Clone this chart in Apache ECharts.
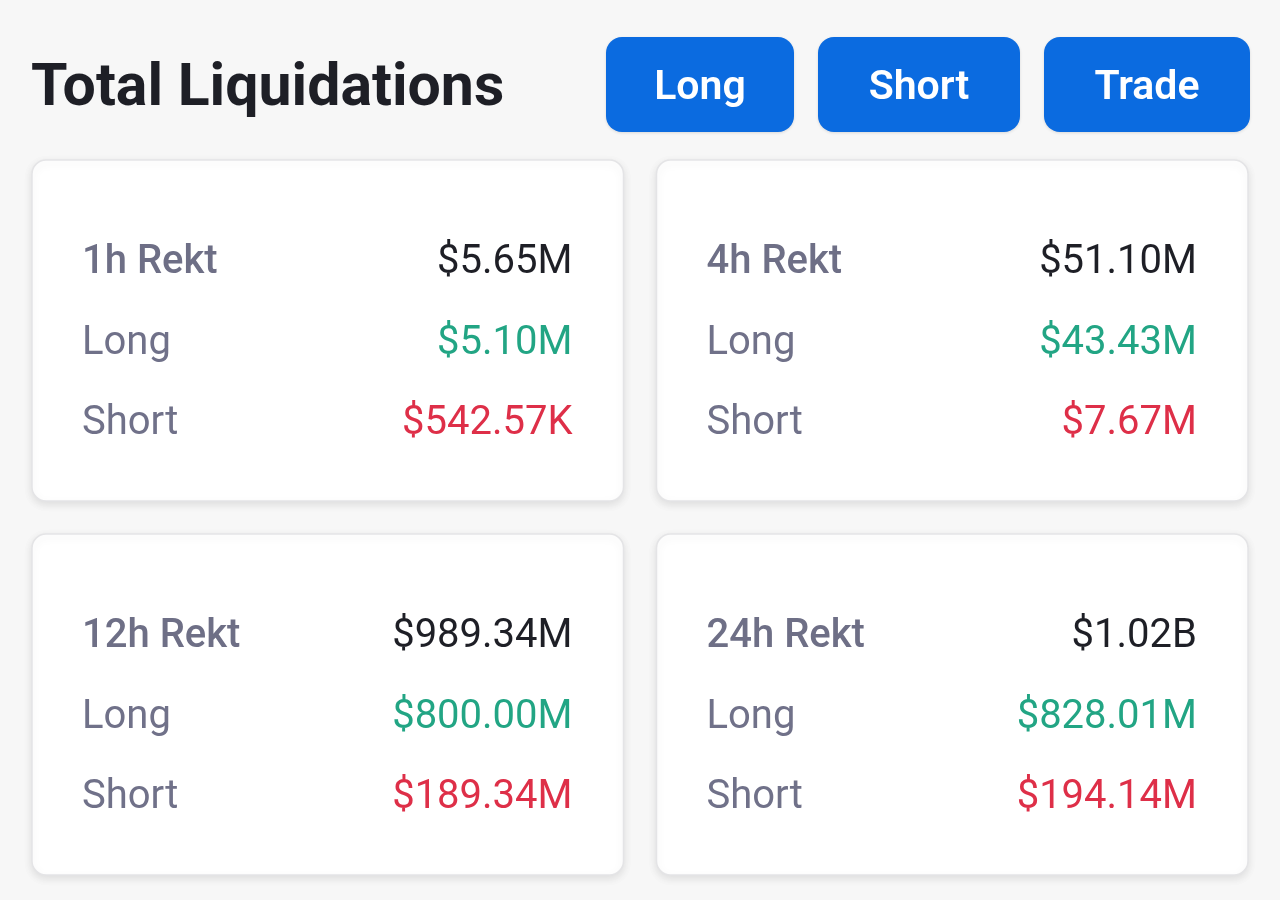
<!DOCTYPE html>
<html>
<head>
<meta charset="utf-8">
<script src="https://cdn.jsdelivr.net/npm/echarts@6/dist/echarts.min.js"></script>
<style>
html,body{margin:0;padding:0;background:#f7f7f7;}
#chart{width:1280px;height:900px;}
</style>
</head>
<body>
<div id="chart"></div>
<script>
// ---- data ----
var titleText = 'Total Liquidations';
var buttons = ['Long', 'Short', 'Trade'];
var periods = ['1h Rekt', '4h Rekt', '12h Rekt', '24h Rekt'];
var totals = ['$5.65M', '$51.10M', '$989.34M', '$1.02B'];
var longs = ['$5.10M', '$43.43M', '$800.00M', '$828.01M'];
var shorts = ['$542.57K', '$7.67M', '$189.34M', '$194.14M'];
var rowLabels = ['Long', 'Short'];
var cardCols = [0, 1, 0, 1];
var cardRows = [0, 0, 1, 1];

var FONT = 'Roboto, "Noto Sans", sans-serif';
var GAP = 33;
var GRID_W = 1216, GRID_H = 715;
var CELL_W = (GRID_W + GAP) / 2, CELL_H = (GRID_H + GAP) / 2;

var cardData = periods.map(function (p, i) { return [cardCols[i], cardRows[i], i]; });

function renderCard(params, api) {
  var i = api.value(2);
  var p = api.coord([api.value(0), api.value(1)]);
  var s = api.size([1, 1]);
  var w = s[0] - GAP, h = s[1] - GAP;
  var x = p[0], y = p[1];
  var lx = x + 50, rx = x + w - 51;
  var rows = [y + 103, y + 184, y + 264];
  function txt(t, tx, ty, align, color, weight) {
    return {
      type: 'text', silent: true,
      style: { text: t, x: tx, y: ty, align: align, verticalAlign: 'middle',
        fill: color, fontSize: 40, fontWeight: weight, fontFamily: FONT }
    };
  }
  return {
    type: 'group',
    children: [
      { type: 'rect', shape: { x: x, y: y, width: w, height: h, r: 14 },
        style: { fill: '#ffffff', stroke: '#e4e4e6', lineWidth: 1.5,
          shadowBlur: 8, shadowOffsetY: 3, shadowColor: 'rgba(0,0,0,0.10)' } },
      txt(periods[i], lx, rows[0], 'left', '#6e6f86', 500),
      txt(totals[i], rx, rows[0], 'right', '#1e1f26', 400),
      txt(rowLabels[0], lx, rows[1], 'left', '#707189', 400),
      txt(longs[i], rx, rows[1], 'right', '#22a584', 400),
      txt(rowLabels[1], lx, rows[2], 'left', '#707189', 400),
      txt(shorts[i], rx, rows[2], 'right', '#de2f48', 400)
    ]
  };
}

// button layout (UI positions)
var btnX = [606, 818, 1044];
var btnW = [188, 202, 206];
var btnGraphics = buttons.map(function (b, i) {
  return {
    type: 'group', left: btnX[i], top: 37,
    children: [
      { type: 'rect', shape: { x: 0, y: 0, width: btnW[i], height: 95, r: 16 },
        style: { fill: '#0b6be0', shadowBlur: 3, shadowOffsetY: 1, shadowColor: 'rgba(0,0,0,0.12)' } },
      { type: 'text', style: { text: b, x: btnW[i] / 2, y: 52, align: 'center', verticalAlign: 'middle',
        fill: '#ffffff', fontSize: 41, fontWeight: 600, fontFamily: FONT } }
    ]
  };
});

var chart = echarts.init(document.getElementById('chart'), null, { renderer: 'canvas' });
chart.setOption({
  backgroundColor: '#f7f7f7',
  animation: false,
  title: {
    text: titleText, left: 26, top: 56,
    textStyle: { fontSize: 59, fontWeight: 700, color: '#1e1f26', fontFamily: FONT }
  },
  grid: { left: 32, top: 160, width: GRID_W, height: GRID_H },
  xAxis: { type: 'value', min: 0, max: GRID_W / CELL_W, show: false },
  yAxis: { type: 'value', min: 0, max: GRID_H / CELL_H, inverse: true, show: false },
  series: [{
    type: 'custom',
    renderItem: renderCard,
    data: cardData,
    encode: { x: 0, y: 1 },
    clip: false,
    silent: true
  }],
  graphic: btnGraphics
});
</script>
</body>
</html>
